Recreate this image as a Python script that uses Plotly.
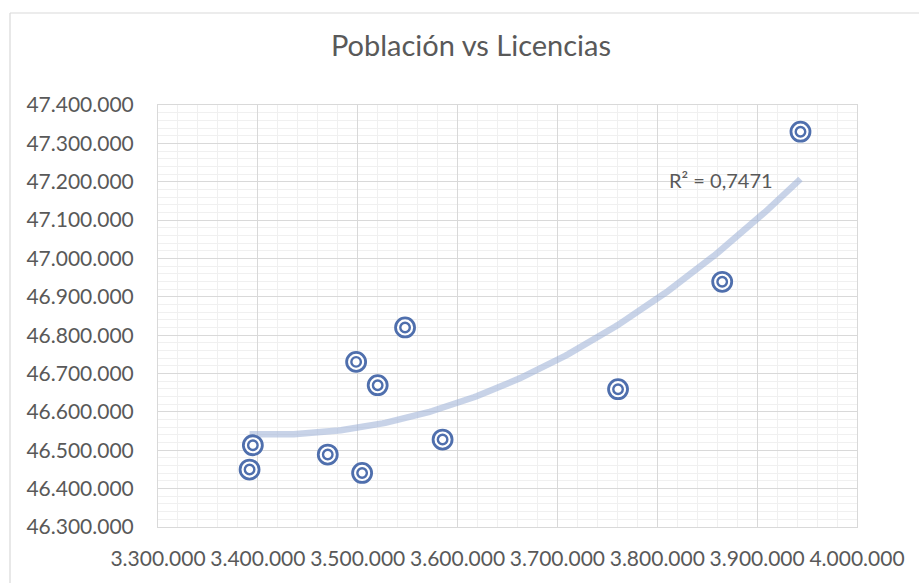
import numpy as np
import plotly.graph_objects as go

# Data
licencias = [3391700, 3395000, 3470000, 3504400, 3498400, 3520000,
             3547400, 3585000, 3760700, 3865000, 3943400]
poblacion = [46449700, 46513100, 46488800, 46440900, 46730400, 46669600,
             46820100, 46528000, 46659200, 46939100, 47330400]
r2_text = "R² = 0,7471"
title_text = "Población vs Licencias"

x = np.array(licencias, dtype=float)
y = np.array(poblacion, dtype=float)
coef = np.polyfit(x, y, 2)
xt = np.linspace(x.min(), x.max(), 200)
yt = np.polyval(coef, xt)

blue = "#4F6FAD"
grey_txt = "#595959"
font_family = "Lato, 'Open Sans', sans-serif"

fig = go.Figure()
fig.add_trace(go.Scatter(x=xt, y=yt, mode="lines",
                         line=dict(color="rgba(160,180,215,0.58)", width=6.5),
                         hoverinfo="skip", showlegend=False))
fig.add_trace(go.Scatter(x=licencias, y=poblacion, mode="markers",
                         marker=dict(symbol="circle", size=19, color="white",
                                     line=dict(color=blue, width=2.8)),
                         showlegend=False))
fig.add_trace(go.Scatter(x=licencias, y=poblacion, mode="markers",
                         marker=dict(symbol="circle", size=9.5, color="white",
                                     line=dict(color=blue, width=2.4)),
                         showlegend=False, hoverinfo="skip"))

fig.add_annotation(x=3809700, y=47204000, xref="x", yref="y", text=r2_text,
                   showarrow=False, xanchor="left", yanchor="middle",
                   font=dict(family=font_family, size=20, color=grey_txt))

L, R, T, B = 158, 62, 105, 56
W, H = 919, 583
pw, ph = W - L - R, H - T - B
# chart-area border (left and top edges visible)
bx = (10 - L) / pw
by = 1 + (T - 13) / ph
fig.add_shape(type="line", xref="paper", yref="paper", x0=bx, x1=bx, y0=by, y1=-0.5,
              line=dict(color="#D9D9D9", width=1.2), layer="below")
fig.add_shape(type="line", xref="paper", yref="paper", x0=bx, x1=1.5, y0=by, y1=by,
              line=dict(color="#D9D9D9", width=1.2), layer="below")

fig.update_layout(
    width=W, height=H,
    margin=dict(l=L, r=R, t=T, b=B, autoexpand=False),
    paper_bgcolor="white", plot_bgcolor="white",
    separators=",.",
    title=dict(text=title_text, x=471 / W, xref="container", xanchor="center",
               y=1 - 46 / H, yref="container", yanchor="middle",
               font=dict(family=font_family, size=29, color=grey_txt)),
    font=dict(family=font_family, color=grey_txt),
)
fig.update_xaxes(range=[3300000, 4000000], dtick=100000, tick0=3300000,
                 tickformat=",d", showgrid=True, gridcolor="#D9D9D9", gridwidth=1,
                 minor=dict(dtick=20000, showgrid=True, gridcolor="#F0F0F0", gridwidth=1),
                 showline=True, linecolor="#D9D9D9", mirror=True, zeroline=False,
                 automargin=False,
                 ticks="", ticklabelstandoff=13,
                 tickfont=dict(family=font_family, size=21, color=grey_txt))
fig.update_yaxes(range=[46300000, 47400000], dtick=100000, tick0=46300000,
                 tickformat=",d", showgrid=True, gridcolor="#D9D9D9", gridwidth=1,
                 minor=dict(dtick=20000, showgrid=True, gridcolor="#F0F0F0", gridwidth=1),
                 showline=True, linecolor="#D9D9D9", mirror=True, zeroline=False,
                 automargin=False,
                 ticks="", ticklabelstandoff=19,
                 tickfont=dict(family=font_family, size=21, color=grey_txt))

fig.write_html("out.html", config={"displayModeBar": False},
               post_script="document.body.style.margin='0';document.body.style.overflow='hidden';")
